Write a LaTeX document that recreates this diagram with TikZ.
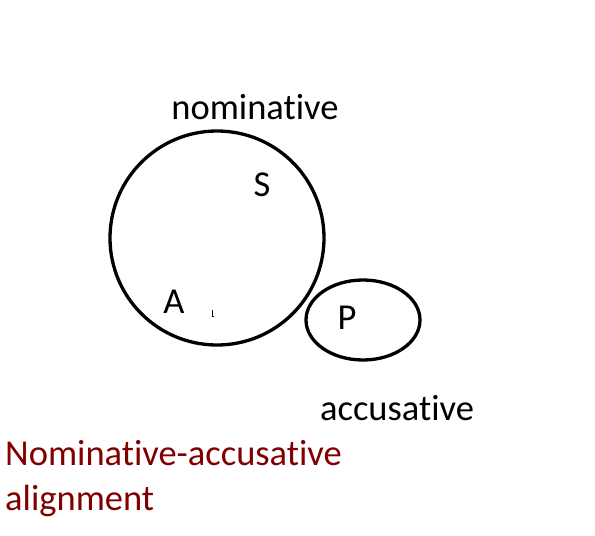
\documentclass[tikz,border=0pt]{standalone}
\usepackage{fontspec}
\setmainfont{Carlito}[Ligatures={NoCommon}]
\usepackage{tikz}
\usetikzlibrary{shapes.geometric}
\definecolor{darkred}{RGB}{128,0,0}
\tikzset{
    group/.style={
           draw=black,
           line width=3.3pt,
           inner sep=0pt,
           },
    label/.style={
           font=\fontsize{36.5}{43}\selectfont,
           inner sep=0pt,
           anchor=base,
           },
}

\begin{document}
\begin{tikzpicture}[x=1pt, y=-1pt]
    \useasboundingbox (0,0) rectangle (595,536);

    % the two groups: nominative (S and A) and accusative (P)
    \node[group, circle,
    minimum size=214pt] (nom) at (217,238) {};

    \node[group, ellipse,
    minimum width=114pt,
    minimum height=80pt] (acc) at (363,320) {};

    % arguments inside the groups
    \node[label] (S) at (262,196) {S};
    \node[label] (A) at (174,313) {A};
    \node[label] (P) at (347,329) {P};

    % group names
    \node[label] (nomname) at (255,119) {nominative};
    \node[label] (accname) at (397,420) {accusative};

    % stray mark
    \draw[line width=0.8pt] (212,310) -- (212,316) -- (214,316);

    % title
    \node[label, anchor=base west, text=darkred] (title) at (5,465) {Nominative-accusative};
    \node[label, anchor=base west, text=darkred] (title2) at (5,510) {alignment};
\end{tikzpicture}
\end{document}
